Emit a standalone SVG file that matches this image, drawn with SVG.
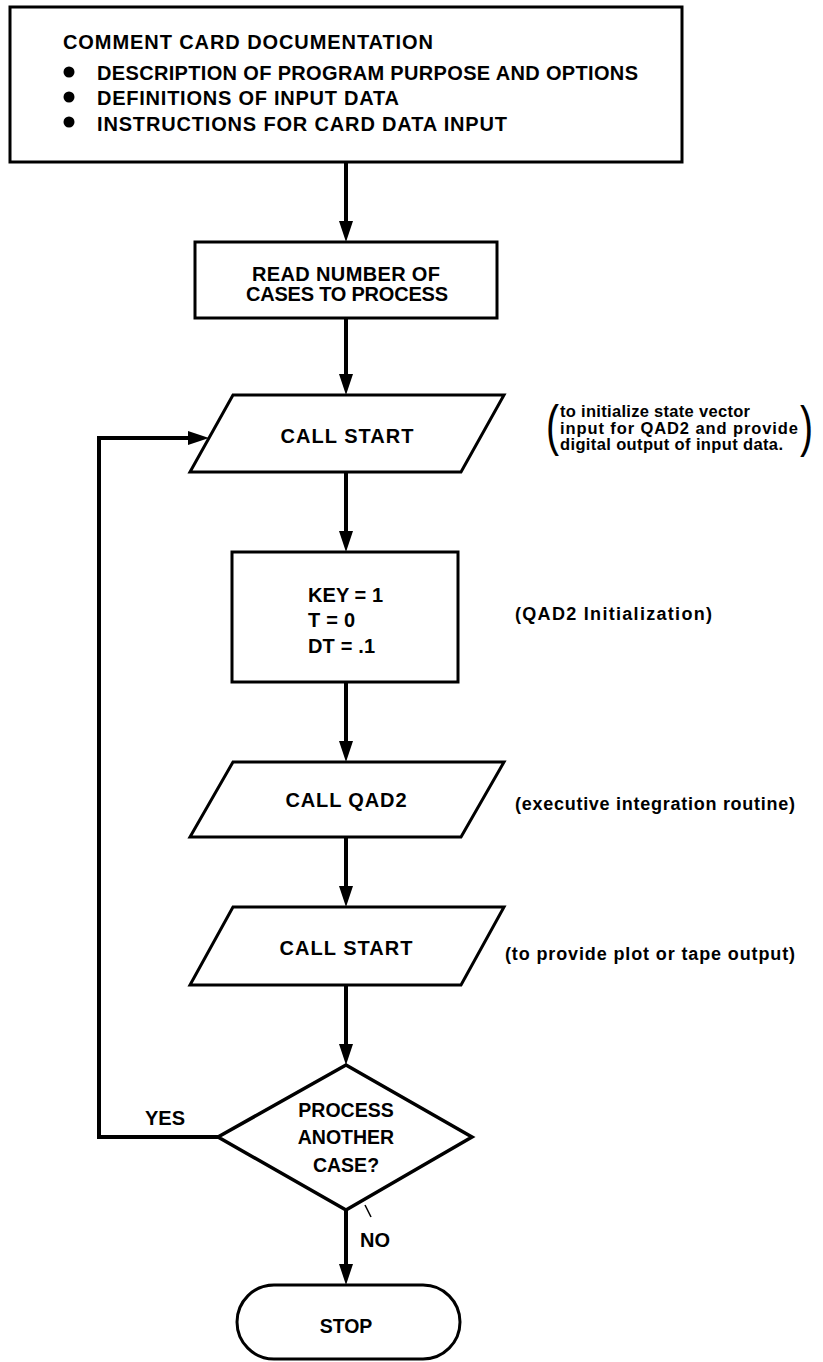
<svg xmlns="http://www.w3.org/2000/svg" width="823" height="1362" viewBox="0 0 823 1362">
<style>
.bg{fill:#ffffff}
.shape{fill:#ffffff;stroke:#000;stroke-width:3;stroke-linejoin:miter}
.conn{fill:none;stroke:#000;stroke-width:4;stroke-linejoin:miter}
.t{font-family:"Liberation Sans",Arial,Helvetica,sans-serif;font-weight:bold;fill:#000}
.hd{font-size:20px}
.nd{font-size:20px;text-anchor:middle}
.nl{font-size:20px}
.an{font-size:16.5px}
.an2{font-size:18px}
.lb{font-size:20px}
.par{font-family:"Liberation Sans",Arial,sans-serif;font-weight:normal;font-size:56px;fill:#000}
</style>
<defs>
<marker id="ah" viewBox="0 0 21 14" refX="13" refY="7" markerWidth="21" markerHeight="14" markerUnits="userSpaceOnUse" orient="auto">
<path d="M0,0 L21,7 L0,14 Z" fill="#000"/>
</marker>
</defs>
<rect class="bg" x="0" y="0" width="823" height="1362"/>

<g id="connectors">
<line class="conn" x1="346" y1="162" x2="346" y2="234" marker-end="url(#ah)"/>
<line class="conn" x1="346" y1="318" x2="346" y2="387" marker-end="url(#ah)"/>
<line class="conn" x1="346" y1="472" x2="346" y2="544" marker-end="url(#ah)"/>
<line class="conn" x1="346" y1="682" x2="346" y2="754" marker-end="url(#ah)"/>
<line class="conn" x1="346" y1="837" x2="346" y2="899" marker-end="url(#ah)"/>
<line class="conn" x1="346" y1="985" x2="346" y2="1057" marker-end="url(#ah)"/>
<path class="conn" d="M218,1137 H99 V438 H201" marker-end="url(#ah)"/>
<line class="conn" x1="346" y1="1210" x2="346" y2="1277" marker-end="url(#ah)"/>
<line x1="365" y1="1205" x2="371" y2="1217" stroke="#000" stroke-width="1.5"/>
<text class="t lb" x="145" y="1125">YES</text>
<text class="t lb" x="360" y="1247">NO</text>
</g>

<g id="comment-card">
<rect class="shape" x="10" y="7" width="672" height="155"/>
<text class="t hd" x="63" y="49" textLength="370">COMMENT CARD DOCUMENTATION</text>
<circle cx="69" cy="72" r="5.5" fill="#000"/>
<text class="t hd" x="97" y="80" textLength="541">DESCRIPTION OF PROGRAM PURPOSE AND OPTIONS</text>
<circle cx="69" cy="97" r="5.5" fill="#000"/>
<text class="t hd" x="97" y="105" textLength="302">DEFINITIONS OF INPUT DATA</text>
<circle cx="69" cy="122" r="5.5" fill="#000"/>
<text class="t hd" x="97" y="131" textLength="410">INSTRUCTIONS FOR CARD DATA INPUT</text>
</g>

<g id="read-cases">
<rect class="shape" x="195" y="242" width="302" height="76"/>
<text class="t nd" x="346" y="281" textLength="188">READ NUMBER OF</text>
<text class="t nd" x="347" y="301" textLength="202">CASES TO PROCESS</text>
</g>

<g id="call-start-1">
<polygon class="shape" points="233,395 504,395 461,472 190,472"/>
<text class="t nd" x="347" y="443" textLength="133">CALL START</text>
</g>

<g id="note-start-1">
<text class="par" transform="translate(546,444) scale(0.7,1)">(</text>
<text class="t an" x="560" y="417" textLength="190">to initialize state vector</text>
<text class="t an" x="560" y="434" textLength="238">input for QAD2 and provide</text>
<text class="t an" x="560" y="450" textLength="223">digital output of input data.</text>
<text class="par" transform="translate(800,445) scale(0.7,1)">)</text>
</g>

<g id="init">
<rect class="shape" x="232" y="552" width="226" height="130"/>
<text class="t nl" x="308" y="602" textLength="75">KEY = 1</text>
<text class="t nl" x="308" y="627" textLength="47">T = 0</text>
<text class="t nl" x="308" y="653" textLength="67">DT = .1</text>
</g>

<g id="note-init">
<text class="t an2" x="515" y="620" textLength="197">(QAD2 Initialization)</text>
</g>

<g id="call-qad2">
<polygon class="shape" points="233,762 504,762 461,837 190,837"/>
<text class="t nd" x="346" y="807" textLength="121">CALL QAD2</text>
</g>

<g id="note-qad2">
<text class="t an2" x="515" y="810" textLength="280">(executive integration routine)</text>
</g>

<g id="call-start-2">
<polygon class="shape" points="233,907 504,907 461,985 190,985"/>
<text class="t nd" x="346" y="955" textLength="133">CALL START</text>
</g>

<g id="note-start-2">
<text class="t an2" x="505" y="960" textLength="290">(to provide plot or tape output)</text>
</g>

<g id="decision">
<polygon class="shape" points="346,1065 472,1137 346,1210 218,1137" style="stroke-width:3.5"/>
<text class="t nd" x="346" y="1117" style="font-size:19.5px">PROCESS</text>
<text class="t nd" x="346" y="1144" style="font-size:19.5px">ANOTHER</text>
<text class="t nd" x="346" y="1172" style="font-size:19.5px">CASE?</text>
</g>

<g id="stop">
<rect class="shape" x="237" y="1285" width="223" height="74" rx="37" ry="37"/>
<text class="t nd" x="346" y="1333" style="font-size:19.5px">STOP</text>
</g>
</svg>
